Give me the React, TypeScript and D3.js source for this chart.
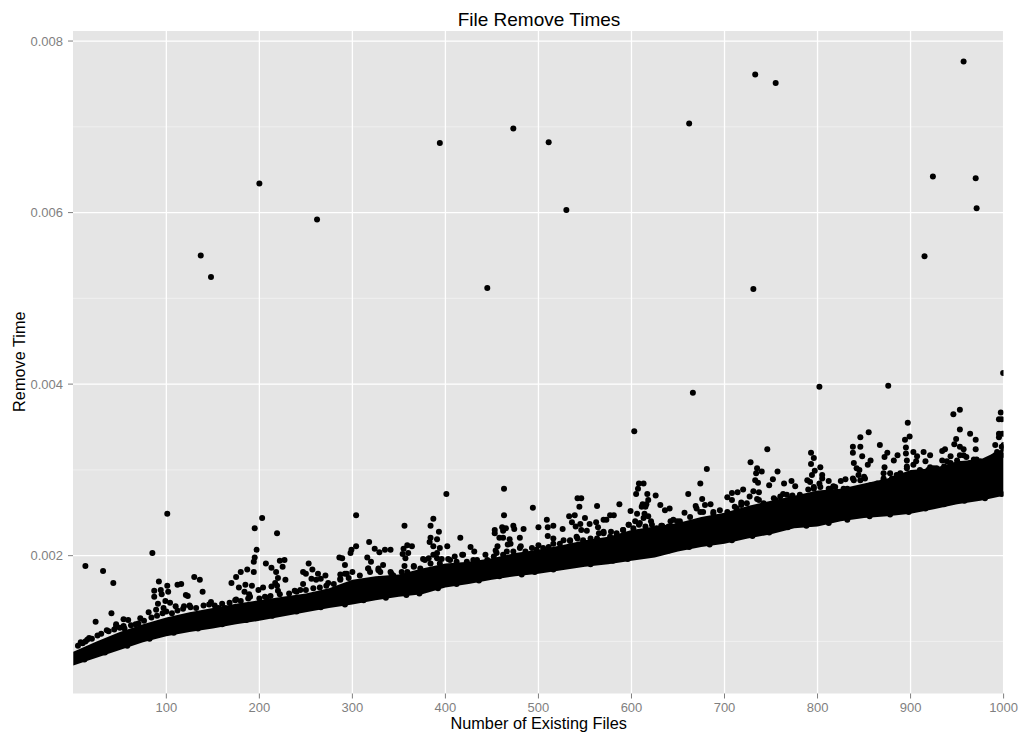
import React from "react";
import * as d3 from "d3";

// Values are [existing files, remove time in milliseconds].
const isolatedPoints: [number, number][] = [
  [13,1.88],[32,1.82],[43,1.68],[85,2.03],[101,2.49],[137,5.5],[148,5.25],[200,6.34],[262,5.92],[394,6.81],[445,5.12],[473,6.98],[511,6.82],[530,6.03],[662,7.04],[666,3.9],[733,7.61],[755,7.51],[731,5.11],[802,3.97],[876,3.98],[957,7.76],[924,6.42],[970,6.4],[971,6.05],[915,5.49],[999.5,4.13],[603,3.45],
];
const fringeA: [number, number][] = [
  [41,1.33],[24,1.23],[36,1.13],[46,1.2],[46,1.17],[54,1.26],[54,1.18],[59,1.25],[67,1.2],[72,1.27],[81,1.34],[15,1.02],[17,1.04],[92,1.7],[87,1.59],[87,1.52],[94,1.6],[95,1.55],[101,1.65],[102,1.58],[91,1.44],[99,1.47],[104,1.45],[89,1.37],[97,1.39],[110,1.41],[112,1.66],[116,1.67],[121,1.54],[123,1.53],[125,1.42],[119,1.41],[130,1.75],[136,1.72],[139,1.58],[148,1.46],[156,1.39],[163,1.39],[170,1.68],[175,1.75],[180,1.81],[187,1.84],[178,1.63],[185,1.66],[192,1.65],[184,1.58],[199,1.6],[204,1.63],[195,2.32],[203,2.44],[219,2.26],[197,2.07],[195,1.98],[194,1.93],[194,1.81],[207,1.91],[213,1.86],[218,1.81],[220,1.74],[228,1.72],[222,1.94],[227,1.95],[225,1.87],[213,1.64],[219,1.65],[217,1.68],[220,1.59],[247,1.67],[247,1.81],[250,1.79],[253,1.91],[257,1.84],[263,1.79],[256,1.73],[261,1.72],[266,1.73],[271,1.77],[274,1.68],[286,1.98],[287,1.78],[287,1.73],[175,1.49],[189,1.55],[208,1.51],[188,1.5],[238,1.59],[244,1.6],
];
const fringeB: [number, number][] = [
  [304,2.47],[401,2.72],[463,2.78],[463,2.47],[494,2.56],[304,2.11],[299,2.07],[298,2.03],[318,2.16],[324,2.08],[329,2.04],[335,2.07],[341,2.07],[316,1.98],[320,1.93],[333,1.89],[328,1.83],[317,1.85],[342,1.79],[289,1.97],[292,1.89],[356,2.35],[355,2.08],[359,2.12],[364,2.11],[354,2.02],[360,2.03],[357,1.97],[356,1.88],[366,1.88],[387,2.43],[384,2.35],[393,2.28],[384,2.21],[391,2.19],[383,2.16],[387,2.11],[394,2.09],[402,2.11],[387,2.01],[391,2.03],[376,1.96],[382,1.97],[396,1.96],[403,1.96],[410,1.99],[416,2.21],[427,2.1],[431,2.05],[418,2.01],[443,2.01],[434,1.95],[453,2.3],[453,2.26],[461,2.33],[465,2.32],[462,2.29],[473,2.35],[474,2.31],[484,2.31],[458,2.21],[462,2.21],[469,2.19],[480,2.21],[467,2.13],[470,2.14],[456,2.11],[481,2.11],[454,2.06],[500,2.33],[509,2.42],[510,2.33],[516,2.35],[510,2.23],[516,2.2],[500,2.12],[526,2.31],[533,2.46],[539,2.47],[536,2.39],[540,2.34],[545,2.37],[544,2.57],[542,2.67],[546,2.67],[550,2.44],[555,2.37],[546,2.3],[552,2.29],[563,2.58],[562,2.39],[564,2.33],[570,2.42],[573,2.42],[577,2.47],[581,2.47],[587,2.6],[570,2.28],[565,2.26],[591,2.3],[542,2.2],[534,2.17],[578,2.28],[599,2.52],[606,2.49],[604,2.4],[597,2.36],[608,2.84],[613,2.84],[607,2.78],[605,2.72],[617,2.72],[626,2.7],[618,2.65],[612,2.6],[616,2.6],[611,2.57],[615,2.57],[631,2.59],[636,2.53],[641,2.55],[614,2.49],[618,2.46],[613,2.44],[621,2.4],[608,2.36],[633,2.35],[642,2.4],[649,2.4],
];
const fringeC: [number, number][] = [
  [681,3.01],[674,2.84],[661,2.72],[676,2.66],[657,2.5],[669,2.58],[679,2.59],[685,2.6],[695,2.53],[703,2.68],[708,2.73],[708,2.65],[714,2.74],[720,2.77],[718,2.62],[728,3.09],[735,3.02],[740,2.98],[734,2.96],[733,2.88],[736,2.85],[731,2.75],[737,2.74],[735,2.66],[746,3.24],[757,2.98],[752,2.89],[748,2.82],[764,2.84],[772,2.87],[776,2.81],[763,2.72],[773,2.7],[793,3.2],[796,3.14],[793,3.07],[803,3.03],[797,2.99],[805,2.94],[794,2.94],[789,2.88],[792,2.86],[805,2.9],[812,2.87],[802,2.84],[817,2.81],[825,2.87],[830,2.89],[838,2.9],[838,3.27],[838,3.2],[846,3.38],[855,3.44],[846,3.27],[848,3.16],[857,3.11],[854,3.06],[839,3.08],[842,3.02],[845,3.0],[850,2.92],[867,3.29],[875,3.2],[872,3.15],[882,3.11],[886,3.17],[872,3.03],[878,2.96],[871,2.96],[888,2.94],[897,3.55],[899,3.39],[894,3.35],[895,3.26],[895,3.19],[896,3.11],[903,3.21],[907,3.16],[906,3.1],[914,3.21],[921,3.17],[916,3.1],[921,3.03],[934,3.22],[937,3.24],[934,3.11],[943,3.16],[946,3.65],[953,3.7],[953,3.47],[949,3.36],[947,3.3],[953,3.27],[957,3.24],[964,3.42],[970,3.35],[970,3.24],[960,3.15],[971,3.12],[997,3.67],[995,3.59],[998,3.59],[995,3.42],[999,3.42],[995,3.38],[991,3.29],[998,3.27],[989,3.15],[998,3.17],[979,3.08],
];
// Dots forming the bumpy top of the dense cloud.
const topEdge: [number, number][] = [
  [5,0.95],[8,0.99],[10,0.98],[13,1.0],[20,1.03],[26,1.07],[30,1.09],[38,1.12],[44,1.14],[50,1.16],[55,1.15],[62,1.19],[70,1.21],[76,1.24],[84,1.28],[90,1.3],[96,1.33],[100,1.35],[106,1.33],[112,1.36],[118,1.38],[126,1.4],[132,1.39],[140,1.42],[146,1.43],[152,1.42],[160,1.44],[168,1.45],[174,1.48],[180,1.47],[190,1.52],[200,1.5],[206,1.52],[212,1.53],[222,1.55],[232,1.56],[240,1.58],[250,1.6],[258,1.62],[265,1.63],[272,1.65],[280,1.67],[287,1.72],[292,1.79],[296,1.74],[300,1.81],
  [294,1.79],[308,1.77],[317,1.85],[328,1.85],[341,1.81],[353,1.81],[366,1.87],[378,1.95],[391,1.97],[405,1.95],[419,2.01],[430,1.95],[445,1.95],[455,2.03],[466,2.05],[480,2.09],[493,2.09],[505,2.09],[516,2.14],[527,2.18],[541,2.22],[556,2.2],[570,2.26],[584,2.26],[597,2.36],[609,2.38],[622,2.36],[632,2.35],[645,2.42],
  [652,2.4],[663,2.45],[674,2.51],[688,2.51],[703,2.51],[713,2.55],[724,2.61],[742,2.61],[753,2.67],[767,2.71],[781,2.71],[796,2.78],[814,2.78],[832,2.78],[846,2.88],[857,2.82],[871,2.9],[885,2.94],[896,3.04],[910,3.0],[925,3.02],[939,3.1],[953,3.17],[968,3.12],[982,3.1],[993,3.21],[1000,3.29],
];
// Dots that join the upper fringe to the dense cloud.
const joinDots: [number, number][] = [
  [319,1.81],[330,1.81],[344,1.77],[359,1.81],[373,1.85],[384,1.91],[394,1.91],[412,1.93],[423,1.93],[434,1.89],[452,1.99],[462,2.01],[473,2.05],[486,2.05],[498,2.07],[511,2.1],[523,2.14],[534,2.18],[548,2.18],[563,2.2],[577,2.22],[591,2.3],[602,2.32],[615,2.34],[627,2.32],[640,2.34],
  [670,2.55],[677,2.51],[688,2.49],[711,2.57],[718,2.59],[727,2.69],[737,2.65],[746,2.59],[755,2.65],[760,2.69],[771,2.67],[781,2.69],[790,2.77],[796,2.8],[803,2.8],[812,2.78],[819,2.8],[828,2.78],[839,2.88],[844,2.94],[851,2.9],[864,2.84],[871,2.88],[880,2.9],[889,2.96],[896,3.02],[903,3.06],[912,2.98],[919,3.0],[928,3.02],[936,3.04],[943,3.08],[950,3.11],[957,3.17],[964,3.08],[975,3.1],[984,3.1],[991,3.17],[1000,3.25],
];
// Dots forming the scalloped bottom of the dense cloud.
const bottomEdge: [number, number][] = [
  [12,0.79],[34,0.87],[58,0.95],[82,1.03],[108,1.1],[134,1.15],[160,1.2],[186,1.25],[214,1.3],[240,1.35],[266,1.4],[292,1.43],[312,1.48],[336,1.51],[358,1.54],[372,1.56],[392,1.62],[412,1.67],[436,1.71],[458,1.76],[482,1.78],[496,1.81],[516,1.84],[538,1.89],[556,1.9],[580,1.94],[596,1.96],[618,2.01],[640,2.06],[662,2.1],[684,2.13],[708,2.18],[730,2.23],[748,2.27],[768,2.33],[788,2.35],[812,2.38],[832,2.42],[856,2.46],[878,2.48],[898,2.51],[916,2.55],[936,2.6],[958,2.64],[980,2.67],[998,2.72],
];
// Dense core of the cloud, read as lower and upper edges.
const bandFiles = [0,25,50,75,100,125,150,175,200,225,250,275,300,325,350,375,400,425,450,475,500,525,550,575,600,625,650,675,700,725,750,775,800,825,850,875,900,925,950,975,1000];
const bandLow = [0.72,0.81,0.9,0.99,1.06,1.11,1.15,1.2,1.24,1.29,1.34,1.39,1.43,1.48,1.52,1.55,1.63,1.67,1.72,1.76,1.79,1.83,1.87,1.9,1.94,1.98,2.05,2.1,2.14,2.2,2.25,2.32,2.34,2.4,2.44,2.46,2.49,2.54,2.6,2.64,2.7];
const bandHigh = [0.88,1.0,1.11,1.2,1.28,1.34,1.39,1.44,1.48,1.52,1.56,1.62,1.72,1.76,1.78,1.85,1.91,1.93,1.97,2.03,2.07,2.12,2.18,2.22,2.3,2.34,2.38,2.45,2.5,2.58,2.64,2.7,2.76,2.78,2.84,2.9,3.0,3.02,3.1,3.12,3.25];

const xTicks = [100,200,300,400,500,600,700,800,900,1000];
const yMajor = [0.002,0.004,0.006,0.008];
const yMinor = [0.001,0.003,0.005,0.007];
const title = "File Remove Times";
const xLabel = "Number of Existing Files";
const yLabel = "Remove Time";

const panel = { left: 73, right: 1003.5, top: 31, bottom: 693.5 };
const x = d3.scaleLinear().domain([0, 1000]).range([73.3, 1003.6]);
const y = d3.scaleLinear().domain([0.000393, 0.008117]).range([693.5, 31]);
const font = "'Liberation Sans', Arial, sans-serif";
const points = [...isolatedPoints, ...fringeA, ...fringeB, ...fringeC, ...topEdge, ...joinDots, ...bottomEdge];
const bandPath = d3
  .area<number>()
  .x((d) => x(d))
  .y0((_, i) => y(bandLow[i] / 1000))
  .y1((_, i) => y(bandHigh[i] / 1000))(bandFiles) as string;

export default function App() {
  return (
    <svg width={1023} height={736} style={{ position: "absolute", left: 0, top: 0, display: "block" }} fontFamily={font}>
      <defs>
        <clipPath id="panel">
          <rect x={panel.left} y={panel.top} width={panel.right - panel.left} height={panel.bottom - panel.top} />
        </clipPath>
      </defs>
      <rect x={panel.left} y={panel.top} width={panel.right - panel.left} height={panel.bottom - panel.top} fill="#e5e5e5" />
      {yMinor.map((t) => (
        <line key={t} x1={panel.left} x2={panel.right} y1={y(t)} y2={y(t)} stroke="#f2f2f2" strokeWidth={0.8} />
      ))}
      {yMajor.map((t) => (
        <line key={t} x1={panel.left} x2={panel.right} y1={y(t)} y2={y(t)} stroke="#fff" strokeWidth={1.3} />
      ))}
      {xTicks.map((t) => (
        <line key={t} x1={x(t)} x2={x(t)} y1={panel.top} y2={panel.bottom} stroke="#fff" strokeWidth={1.3} />
      ))}
      <g clipPath="url(#panel)">
        <path d={bandPath} fill="#000" />
        {points.map(([f, ms], i) => (
          <circle key={i} cx={x(f)} cy={y(ms / 1000)} r={3} fill="#000" />
        ))}
      </g>
      {yMajor.map((t) => (
        <g key={t}>
          <line x1={panel.left - 5} x2={panel.left} y1={y(t)} y2={y(t)} stroke="#7f7f7f" strokeWidth={1} />
          <text x={panel.left - 10} y={y(t)} dy="0.35em" textAnchor="end" fontSize={13} fill="#7f7f7f">
            {t.toFixed(3)}
          </text>
        </g>
      ))}
      {xTicks.map((t) => (
        <g key={t}>
          <line x1={x(t)} x2={x(t)} y1={panel.bottom} y2={panel.bottom + 5} stroke="#7f7f7f" strokeWidth={1} />
          <text x={x(t)} y={712} textAnchor="middle" fontSize={13} fill="#7f7f7f">
            {t}
          </text>
        </g>
      ))}
      <text x={539} y={26} textAnchor="middle" fontSize={19} fill="#000">{title}</text>
      <text x={538.7} y={729} textAnchor="middle" fontSize={16.3} fill="#000">{xLabel}</text>
      <text transform="translate(24.5,361.7) rotate(-90)" textAnchor="middle" fontSize={16.3} fill="#000">{yLabel}</text>
    </svg>
  );
}
